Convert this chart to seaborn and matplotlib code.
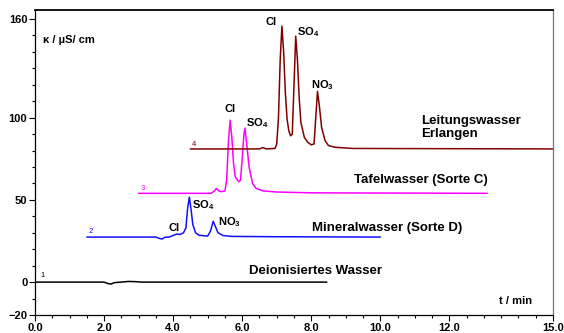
import matplotlib
matplotlib.use("Agg")
import matplotlib.pyplot as plt
import seaborn as sns
import pandas as pd
from matplotlib.ticker import MultipleLocator, FixedLocator

# chromatogram samples (time in min, conductivity in uS/cm)
t_deion = [0.0, 2.0, 2.1, 2.2, 2.3, 2.5, 2.7, 2.9, 3.1, 8.45]
y_deion = [0.0, 0.0, -0.8, -1.2, -0.3, 0.0, 0.4, 0.3, 0.0, 0.0]

t_mineral = [1.5, 3.5, 3.6, 3.68, 3.75, 3.9, 4.0, 4.1, 4.2, 4.3, 4.37, 4.42, 4.47,
             4.52, 4.57, 4.65, 4.75, 5.0, 5.08, 5.16, 5.22, 5.3, 5.45, 5.7, 7.0, 10.0]
y_mineral = [27.4, 27.4, 26.6, 26.2, 27.2, 27.5, 28.4, 29.2, 29.0, 30.0, 33.0, 45.0, 51.7,
             44.0, 35.0, 30.0, 28.5, 28.0, 31.0, 37.0, 34.0, 30.0, 28.3, 27.8, 27.6, 27.4]

t_tafel = [3.0, 5.1, 5.2, 5.25, 5.32, 5.4, 5.5, 5.55, 5.6, 5.65, 5.7, 5.75, 5.8, 5.9,
           5.95, 6.0, 6.05, 6.08, 6.12, 6.2, 6.3, 6.4, 6.6, 7.0, 8.0, 13.1]
y_tafel = [54.0, 54.0, 55.5, 57.0, 55.5, 55.0, 55.5, 62.0, 85.0, 98.5, 88.0, 72.0, 64.0, 61.0,
           62.0, 75.0, 90.0, 93.7, 86.0, 70.0, 60.0, 57.0, 55.5, 54.8, 54.3, 54.0]

t_leitung = [4.5, 6.5, 6.6, 6.7, 6.95, 7.0, 7.05, 7.1, 7.15, 7.2, 7.25, 7.3, 7.35, 7.4,
             7.45, 7.5, 7.55, 7.6, 7.65, 7.7, 7.8, 7.9, 8.0, 8.08, 8.13, 8.18, 8.23,
             8.3, 8.4, 8.5, 8.7, 9.2, 15.0]
y_leitung = [81.0, 81.0, 81.8, 81.0, 81.3, 84.0, 100.0, 135.0, 155.7, 140.0, 115.0, 99.0, 92.0, 89.0,
             90.0, 120.0, 149.6, 135.0, 112.0, 97.0, 88.0, 85.0, 83.5, 84.0, 100.0, 116.0, 108.0,
             94.0, 86.0, 83.0, 82.0, 81.3, 81.0]

trace_ids = ["1", "2", "3", "4"]
trace_names = ["Deionisiertes Wasser", "Mineralwasser (Sorte D)",
               "Tafelwasser (Sorte C)", "Leitungswasser\nErlangen"]
trace_colors = ["#000000", "#1010ff", "#ff00ff", "#800000"]

frames = []
for tid, tt, yy in zip(trace_ids, [t_deion, t_mineral, t_tafel, t_leitung],
                       [y_deion, y_mineral, y_tafel, y_leitung]):
    frames.append(pd.DataFrame({"t": tt, "kappa": yy, "trace": tid}))
df = pd.concat(frames, ignore_index=True)

sns.set_theme(style="ticks")
plt.rcParams["font.family"] = ["Liberation Sans", "DejaVu Sans"]
plt.rcParams["font.weight"] = "bold"
plt.rcParams["text.color"] = "black"
plt.rcParams["xtick.color"] = "black"
plt.rcParams["ytick.color"] = "black"
plt.rcParams["mathtext.fontset"] = "custom"
plt.rcParams["mathtext.bf"] = "Liberation Sans:bold"
plt.rcParams["mathtext.rm"] = "Liberation Sans:bold"
plt.rcParams["mathtext.default"] = "bf"

fig = plt.figure(figsize=(5.64, 3.33), dpi=100)
ax = fig.add_axes([35 / 564, 18 / 333, 518 / 564, 305 / 333])

sns.lineplot(data=df, x="t", y="kappa", hue="trace", palette=trace_colors,
             estimator=None, sort=False, linewidth=1.1, legend=False, ax=ax)

ax.set_xlim(0, 15)
ax.set_ylim(-20, 165.5)
ax.set_xlabel("")
ax.set_ylabel("")

ax.xaxis.set_major_locator(FixedLocator([0, 2, 4, 6, 8, 10, 12, 15]))
ax.set_xticklabels(["0.0", "2.0", "4.0", "6.0", "8.0", "10.0", "12.0", "15.0"])
ax.xaxis.set_minor_locator(MultipleLocator(0.5))
ax.yaxis.set_major_locator(FixedLocator([-20, 0, 50, 100, 160]))
ax.yaxis.set_minor_locator(MultipleLocator(10))
ax.tick_params(which="major", direction="out", length=4, width=0.8, labelsize=8,
               pad=1.5, colors="black")
ax.tick_params(which="minor", direction="out", length=2.5, width=0.8, colors="black")
for lab in ax.get_xticklabels() + ax.get_yticklabels():
    lab.set_fontweight("bold")

for side in ["left", "bottom", "top"]:
    ax.spines[side].set_color("black")
    ax.spines[side].set_linewidth(0.9)
ax.spines["top"].set_linewidth(1.3)
ax.spines["right"].set_color("#777777")
ax.spines["right"].set_linewidth(0.9)

# trace numbers
num_pos = [(0.15, 4), (1.55, 30.5), (3.05, 57), (4.55, 84)]
for tid, (x, y), c in zip(trace_ids, num_pos, trace_colors):
    ax.text(x, y, tid, color=c, fontsize=5.5, fontweight="normal", ha="left", va="center")

# sample names
ax.text(6.2, 7, trace_names[0], fontsize=9.5, ha="left", va="center")
ax.text(12.36, 33, trace_names[1], fontsize=9.5, ha="right", va="center")
ax.text(13.1, 62, trace_names[2], fontsize=9.5, ha="right", va="center")
ax.text(11.18, 94, trace_names[3], fontsize=9.5, ha="left", va="center", linespacing=1.2)

# peak labels
peak_labels = [
    (6.83, 158, "Cl", "center"), (7.6, 152, "SO$_4$", "left"), (7.98, 120, "NO$_3$", "left"),
    (5.65, 105, "Cl", "center"), (6.1, 97, "SO$_4$", "left"),
    (4.03, 33, "Cl", "center"), (4.55, 47, "SO$_4$", "left"), (5.3, 36.5, "NO$_3$", "left"),
]
for x, y, s, ha in peak_labels:
    ax.text(x, y, s, fontsize=8, ha=ha, va="center")

ax.text(14.4, -11.5, "t / min", fontsize=8, ha="right", va="center")
ax.text(0.23, 147, "\u03ba / \u00b5S/ cm", fontsize=8, ha="left", va="center")

fig.savefig("out.png", dpi=100)
